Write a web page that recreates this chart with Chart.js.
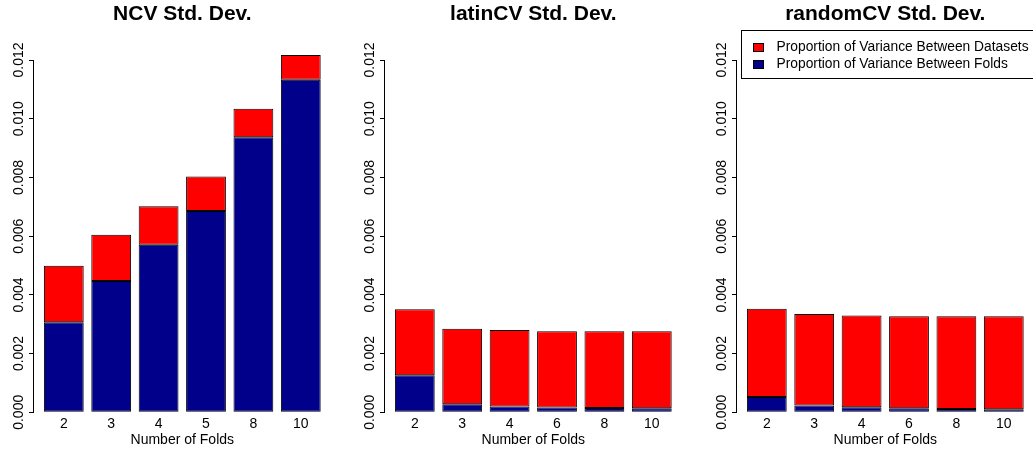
<!DOCTYPE html>
<html>
<head>
<meta charset="utf-8">
<script src="https://cdn.jsdelivr.net/npm/chart.js@4.4.0/dist/chart.umd.min.js"></script>
<style>
    html, body { margin: 0; padding: 0; background: #fff; overflow: hidden; }
    body { width: 1033px; height: 449px; position: relative; }
    canvas { position: absolute; top: 0; }
</style>
</head>
<body>
<canvas id="ncvChart" width="351" height="449" style="left:0px"></canvas>
<canvas id="latinChart" width="351" height="449" style="left:351px"></canvas>
<canvas id="randomChart" width="351" height="449" style="left:703px"></canvas>
<script>
// fold counts on the x axis
var ncvLabels = ['2', '3', '4', '5', '8', '10'];
var cvLabels = ['2', '3', '4', '6', '8', '10'];

// y axis ticks
var yTicks = [0, 0.002, 0.004, 0.006, 0.008, 0.010, 0.012];

var seriesNames = ['Proportion of Variance Between Datasets', 'Proportion of Variance Between Folds'];
var seriesColors = ['#FF0000', '#00008B'];

// bottom part (between folds) and top part (between datasets) of each bar
var ncvFolds = [0.00307, 0.00447, 0.00571, 0.00686, 0.00937, 0.01133];
var ncvDatasets = [0.00192, 0.00158, 0.00131, 0.00117, 0.00097, 0.00084];

var latinFolds = [0.00126, 0.00027, 0.00020, 0.00016, 0.00015, 0.00014];
var latinDatasets = [0.00225, 0.00258, 0.00260, 0.00260, 0.00261, 0.00262];

var randomFolds = [0.00052, 0.00023, 0.00017, 0.00014, 0.00011, 0.00010];
var randomDatasets = [0.00301, 0.00312, 0.00313, 0.00313, 0.00316, 0.00317];

var fontFamily = '"Liberation Sans", Arial, Helvetica, sans-serif';
Chart.defaults.font.family = fontFamily;
Chart.defaults.color = '#000';

/**
 * R style boxed legend, drawn in the top left of the last panel
 */
var boxLegend = {
    id: 'boxLegend',
    afterDraw: function (chart) {
        var ctx = chart.ctx;
        ctx.save();
        ctx.strokeStyle = '#000';
        ctx.lineWidth = 1;
        ctx.strokeRect(38.5, 30.5, 320, 48);
        ctx.font = '13.8px ' + fontFamily;
        ctx.textBaseline = 'middle';
        ctx.textAlign = 'left';
        seriesNames.forEach(function (name, i) {
            var y = 43.5 + i * 17;
            ctx.fillStyle = seriesColors[i];
            ctx.fillRect(50.5, y, 10, 8);
            ctx.strokeRect(50.5, y, 10, 8);
            ctx.fillStyle = '#000';
            ctx.fillText(name, 73.5, y + 4);
        });
        ctx.restore();
    }
};

function toPoints(values) {
    return values.map(function (v, i) { return { x: i, y: v }; });
}

function barSeries(label, values, color) {
    return {
        label: label,
        data: toPoints(values),
        backgroundColor: color,
        borderColor: '#000',
        borderWidth: 1,
        borderSkipped: false,
        categoryPercentage: 1,
        barPercentage: 0.84,
        clip: false
    };
}

/**
 * Stacked std. dev. bar chart, one per panel
 */
function createStdDevChart(canvasId, title, labels, folds, datasets, plugins) {
    new Chart(document.getElementById(canvasId), {
        type: 'bar',
        data: {
            datasets: [
                barSeries(seriesNames[1], folds, seriesColors[1]),
                barSeries(seriesNames[0], datasets, seriesColors[0])
            ]
        },
        options: {
            responsive: false,
            animation: false,
            layout: {
                padding: { left: 0, right: 19.4, top: 0, bottom: 0 }
            },
            plugins: {
                legend: { display: false },
                tooltip: { enabled: false },
                title: {
                    display: true,
                    text: title,
                    fullSize: false,
                    color: '#000',
                    font: { size: 21, weight: 'bold' },
                    padding: { top: 1.9, bottom: 32.9 }
                }
            },
            scales: {
                x: {
                    type: 'linear',
                    min: -0.65,
                    max: 5.65,
                    offset: false,
                    stacked: true,
                    grid: { display: false, drawTicks: false, offset: false },
                    border: { display: false },
                    afterBuildTicks: function (scale) {
                        scale.ticks = labels.map(function (l, i) { return { value: i }; });
                    },
                    afterFit: function (scale) {
                        scale.height = 36.7;
                    },
                    ticks: {
                        autoSkip: false,
                        maxRotation: 0,
                        padding: 3,
                        color: '#000',
                        font: { size: 14 },
                        callback: function (v) { return labels[v]; }
                    },
                    title: {
                        display: true,
                        text: 'Number of Folds',
                        color: '#000',
                        font: { size: 14 },
                        padding: 0
                    }
                },
                y: {
                    min: 0,
                    max: 0.012,
                    stacked: true,
                    afterBuildTicks: function (scale) {
                        scale.ticks = yTicks.map(function (v) { return { value: v }; });
                    },
                    afterFit: function (scale) {
                        scale.width = 33;
                    },
                    grid: {
                        drawOnChartArea: false,
                        drawTicks: true,
                        tickLength: 4,
                        color: '#000'
                    },
                    border: { display: true, color: '#000', width: 1 },
                    ticks: {
                        minRotation: 90,
                        maxRotation: 90,
                        crossAlign: 'center',
                        padding: -8,
                        color: '#000',
                        font: { size: 14 },
                        callback: function (v) { return v.toFixed(3); }
                    }
                }
            }
        },
        plugins: plugins || []
    });
}

createStdDevChart('ncvChart', 'NCV Std. Dev.', ncvLabels, ncvFolds, ncvDatasets);
createStdDevChart('latinChart', 'latinCV Std. Dev.', cvLabels, latinFolds, latinDatasets);
createStdDevChart('randomChart', 'randomCV Std. Dev.', cvLabels, randomFolds, randomDatasets, [boxLegend]);
</script>
</body>
</html>
